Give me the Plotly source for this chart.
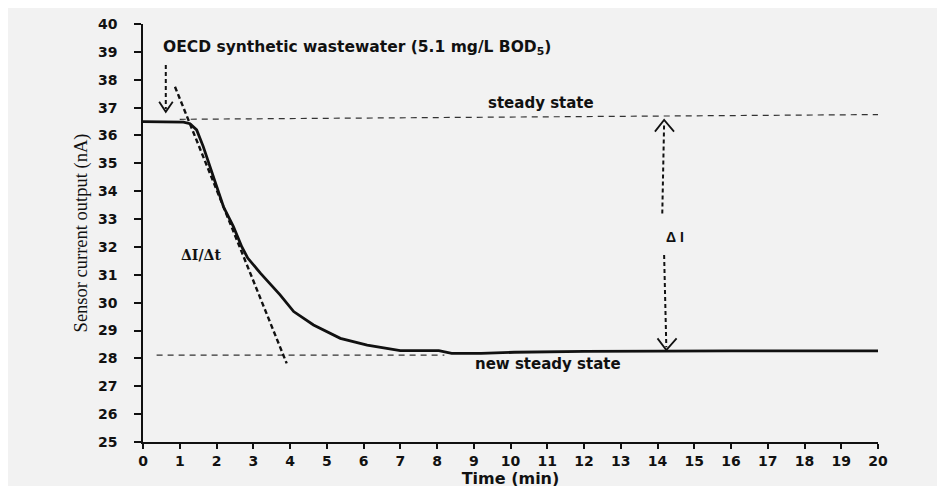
import plotly.graph_objects as go

# ---- data ----
time_min = [0, 0.5, 0.9, 1.1, 1.28, 1.46, 1.64, 1.83, 2.19, 2.46, 2.69, 2.85, 3.2, 3.73, 4.1, 4.64, 5.0, 5.37, 6.1, 7.0, 8.05, 8.4, 9.2, 10.1, 12, 14, 16, 18, 20]
current_nA = [36.5, 36.5, 36.5, 36.48, 36.42, 36.2, 35.6, 34.88, 33.44, 32.73, 32.0, 31.6, 31.05, 30.28, 29.68, 29.2, 28.95, 28.72, 28.48, 28.28, 28.28, 28.18, 28.18, 28.22, 28.25, 28.27, 28.27, 28.27, 28.27]

steady_x = [1.0, 20]
steady_y = [36.58, 36.75]
new_steady_x = [0.37, 8.2]
new_steady_y = [28.12, 28.12]
tangent_x = [0.87, 3.91]
tangent_y = [37.75, 27.82]

inlet_shaft_x = [0.62, 0.62]
inlet_shaft_y = [38.53, 36.95]
inlet_head_x = [0.44, 0.62, 0.81]
inlet_head_y = [37.21, 36.85, 37.21]

dI_up_shaft_x = [14.13, 14.18]
dI_up_shaft_y = [33.2, 36.45]
dI_up_head_x = [13.93, 14.18, 14.45]
dI_up_head_y = [36.14, 36.56, 36.14]
dI_dn_shaft_x = [14.18, 14.24]
dI_dn_shaft_y = [31.71, 28.4]
dI_dn_head_x = [14.0, 14.24, 14.52]
dI_dn_head_y = [28.72, 28.3, 28.72]

labels = [
    ("OECD synthetic wastewater (5.1 mg/L BOD<sub>5</sub>)", 0.5, 39.14, "left", 15.5, "DejaVu Sans"),
    ("steady state", 10.83, 37.15, "center", 15, "DejaVu Sans"),
    ("new steady state", 11.03, 27.8, "center", 15, "DejaVu Sans"),
    ("\u0394I/\u0394t", 1.58, 31.71, "center", 14, "DejaVu Serif"),
    ("\u0394 I", 14.48, 32.37, "center", 14, "Liberation Sans"),
]

x_ticks = list(range(0, 21))
y_ticks = list(range(25, 41))

INK = "#111111"
BG = "#f2f2f2"

fig = go.Figure()

def line(x, y, width, dash=None, color=INK):
    fig.add_trace(go.Scatter(x=x, y=y, mode="lines", hoverinfo="skip", showlegend=False,
                             line=dict(color=color, width=width, dash=dash)))

line(steady_x, steady_y, 1.2, "6px,5px", "#333333")
line(new_steady_x, new_steady_y, 1.2, "6px,5px", "#333333")
line(tangent_x, tangent_y, 2.4, "5px,3px")
line(time_min, current_nA, 2.8)
line(inlet_shaft_x, inlet_shaft_y, 2, "4px,3px")
line(inlet_head_x, inlet_head_y, 1.8)
line(dI_up_shaft_x, dI_up_shaft_y, 2, "4px,3px")
line(dI_up_head_x, dI_up_head_y, 1.8)
line(dI_dn_shaft_x, dI_dn_shaft_y, 2, "4px,3px")
line(dI_dn_head_x, dI_dn_head_y, 1.8)

for text, x, y, anchor, size, family in labels:
    fig.add_annotation(x=x, y=y, text=text, showarrow=False,
                       xanchor=anchor, yanchor="middle",
                       font=dict(family=family, size=size, color=INK, weight="bold"))

axis_font = dict(family="DejaVu Sans", size=14, color=INK, weight="bold")

fig.update_layout(
    width=945, height=486,
    margin=dict(l=135, r=75, t=16, b=52, autoexpand=False),
    paper_bgcolor=BG, plot_bgcolor=BG,
    showlegend=False,
    xaxis=dict(range=[0, 20], tickvals=x_ticks, ticks="outside", ticklen=5, tickwidth=1.5,
               tickcolor=INK, showline=True, linecolor=INK, linewidth=1.6, showgrid=False,
               zeroline=False, tickfont=axis_font, automargin=False,
               title=dict(text="Time (min)", standoff=2,
                          font=dict(family="DejaVu Sans", size=16, color=INK, weight="bold"))),
    yaxis=dict(range=[25, 40], tickvals=y_ticks, ticks="outside", ticklen=7, tickwidth=1.5,
               tickcolor=INK, showline=True, linecolor=INK, linewidth=1.6, showgrid=False,
               zeroline=False, tickfont=axis_font, automargin=False, ticklabelstandoff=14,
               title=dict(text="Sensor current output (nA)", standoff=5,
                          font=dict(family="Liberation Serif", size=18.5, color=INK))),
)

fig.write_html("out.html")
